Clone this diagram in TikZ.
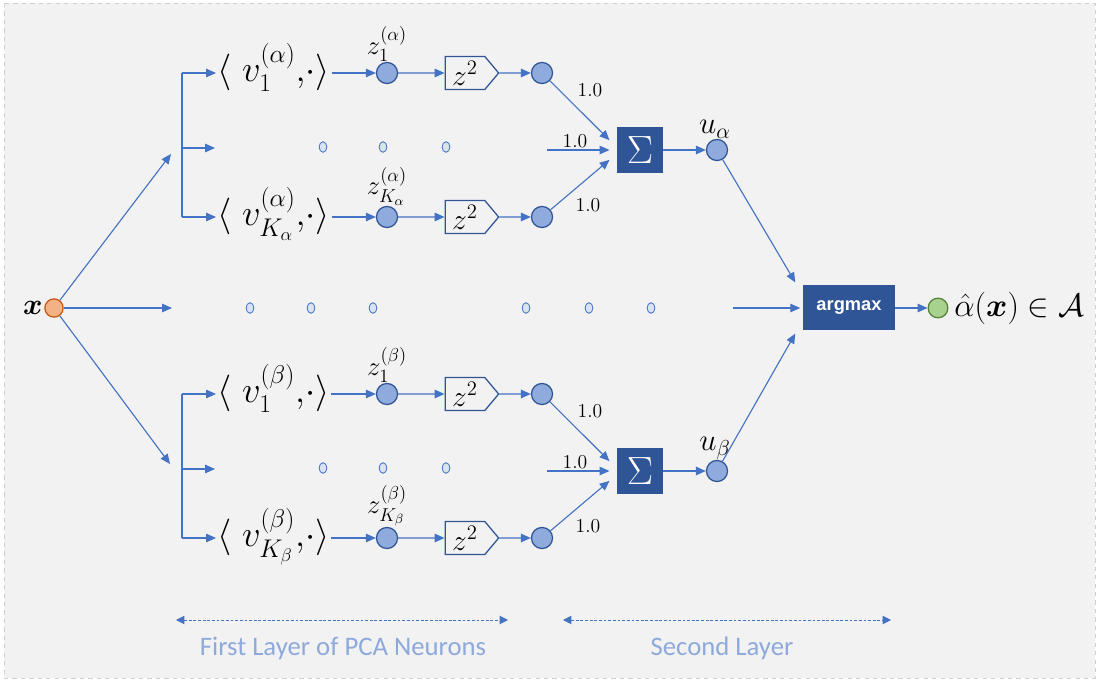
\RequirePackage{fix-cm}
\documentclass[tikz,border=0pt]{standalone}
\usepackage{amsmath}
\usepackage{amssymb}
\usepackage{fontspec}
\newfontfamily\capfont{Carlito}
\newfontfamily\boxfont{Liberation Sans}
\usepackage{tikz}
\usepackage{xcolor}
\usetikzlibrary{arrows.meta,positioning,calc,shapes.geometric,shapes.symbols}
\definecolor{nnline}{HTML}{4472C4}
\definecolor{nnfill}{HTML}{8FAADC}
\definecolor{nndark}{HTML}{2F5597}
\definecolor{nnbg}{HTML}{F2F2F2}
\definecolor{nnframe}{HTML}{CFCFCF}
\definecolor{nngreen}{HTML}{A9D18E}
\definecolor{nngreendk}{HTML}{548235}
\definecolor{nnorange}{HTML}{F4B183}
\definecolor{nnorangedk}{HTML}{C55A11}
\definecolor{nncap}{HTML}{8EA9DB}
\definecolor{nndot}{HTML}{DAE3F3}
\tikzset{
  conn/.style      = {draw=nnline, line width=0.8pt},
  carrow/.style    = {conn, -{Triangle[length=7pt,width=6pt]}},
  spanarr/.style   = {draw=nnline, line width=0.7pt, dash pattern=on 2pt off 1.3pt,
                       {Triangle[length=6pt,width=6pt]}-{Triangle[length=6pt,width=6pt]}},
  neuron/.style    = {circle, draw=nndark, fill=nnfill, line width=0.9pt,
                       minimum size=15pt, inner sep=0pt},
  inneuron/.style  = {neuron, draw=nnorangedk, fill=nnorange, minimum size=13pt},
  outneuron/.style = {neuron, draw=nngreendk, fill=nngreen, minimum size=14pt},
  ipnode/.style    = {anchor=west, inner sep=1pt, text height=23pt, text depth=11pt,
                       font=\fontsize{26}{30}\selectfont},
  zlab/.style      = {inner sep=0pt, font=\fontsize{19}{22}\selectfont},
  ulab/.style      = {inner sep=0pt, font=\fontsize{22}{25}\selectfont},
  wlab/.style      = {inner sep=1pt, font=\fontsize{14}{16}\selectfont},
  sqbox/.style     = {signal, signal to=east, signal pointer angle=100, draw=nndark,
                       line width=0.9pt, minimum width=38pt, minimum height=23.5pt,
                       inner sep=1pt, font=\fontsize{21}{24}\selectfont},
  sumbox/.style    = {rectangle, fill=nndark, minimum size=33pt, inner sep=0pt,
                       text=white, font=\fontsize{28}{30}\selectfont},
  ambox/.style     = {rectangle, fill=nndark, minimum width=65pt, minimum height=32pt,
                       text=white, font=\boxfont\bfseries\fontsize{13}{15}\selectfont},
  dotnode/.style   = {ellipse, draw=nnline, fill=nndot, line width=0.6pt,
                       minimum width=5.5pt, minimum height=7.5pt, inner sep=0pt},
  caplab/.style    = {text=nncap, font=\capfont\fontsize{19}{22}\selectfont},
}

\begin{document}
\begin{tikzpicture}[x=0.025cm, y=-0.025cm]
\useasboundingbox (0,0) rectangle (1098,681);
% Background panel
\draw[nnframe, dashed, fill=nnbg] (4,3) rectangle (1095,678);

% Input
\node[inneuron] (x) at (54,308) {};
\node[font=\fontsize{21}{24}\selectfont, left=1pt of x, inner sep=0pt] (xlab) {$\boldsymbol{x}$};
\coordinate (br-a) at (171,154);
\coordinate (br-m) at (172,308);
\coordinate (br-b) at (170,464);
\draw[carrow] (x) -- (br-a);
\draw[carrow] (x) -- (br-m);
\draw[carrow] (x) -- (br-b);

% Two class branches (alpha on top, beta below)
\foreach \g/\gr/\yo in {a/\alpha/0, b/\beta/321} {
  % spine
  \coordinate (sp-\g-1) at (182,73+\yo);
  \coordinate (sp-\g-m) at (182,148+\yo);
  \coordinate (sp-\g-2) at (182,217+\yo);
  \coordinate (tip-\g-m) at (215,148+\yo);
  \draw[conn] (sp-\g-1) -- (sp-\g-2);
  \draw[carrow] (sp-\g-m) -- (tip-\g-m);

  % projections
  \node[ipnode] (ip-\g-1) at (216,73+\yo)  {$\langle\; v_1^{(\gr)},\!\cdot\rangle$};
  \node[ipnode] (ip-\g-2) at (216,217+\yo) {$\langle\; v_{K_\gr}^{(\gr)},\!\cdot\rangle$};
  \draw[carrow] (sp-\g-1) -- (ip-\g-1.west);
  \draw[carrow] (sp-\g-2) -- (ip-\g-2.west);

  % z neurons, squaring, outputs
  \node[neuron] (z-\g-1) at (387,73+\yo)  {};
  \node[neuron] (z-\g-2) at (387,217+\yo) {};
  \node[zlab, above=0pt of z-\g-1] (zl-\g-1) {$z_1^{(\gr)}$};
  \node[zlab, above=0pt of z-\g-2] (zl-\g-2) {$z_{K_\gr}^{(\gr)}$};
  \node[sqbox] (sq-\g-1) at (465,73+\yo)  {$z^2$};
  \node[sqbox] (sq-\g-2) at (465,217+\yo) {$z^2$};
  \node[neuron] (o-\g-1) at (542,73+\yo)  {};
  \node[neuron] (o-\g-2) at (542,217+\yo) {};
  \foreach \r in {1,2} {
    \draw[carrow] (ip-\g-\r.east) -- (z-\g-\r);
    \draw[carrow] (z-\g-\r) -- (sq-\g-\r);
    \draw[carrow] (sq-\g-\r) -- (o-\g-\r);
  }
  \foreach \xx [count=\k] in {323,383,446}
    \node[dotnode] (d-\g-\k) at (\xx,147+\yo) {};

  % summation
  \node[sumbox] (sum-\g) at (640,150+\yo) {$\Sigma$};
  \coordinate (in-\g) at (547,150+\yo);
  \draw[carrow] (o-\g-1) -- ([xshift=-5pt,yshift=7pt]sum-\g.west);
  \draw[carrow] (in-\g) -- ([xshift=-5pt]sum-\g.west);
  \draw[carrow] (o-\g-2) -- ([xshift=-5pt,yshift=-7pt]sum-\g.west);
  \node[wlab] (w-\g-1) at (590,90+\yo)  {1.0};
  \node[wlab] (w-\g-m) at (575,141+\yo) {1.0};
  \node[wlab] (w-\g-2) at (588,205+\yo) {1.0};

  % class score
  \node[neuron] (u-\g) at (717,150+\yo) {};
  \node[ulab, above=0pt of u-\g, xshift=-1.5pt] (ul-\g) {$u_\gr$};
  \draw[carrow] (sum-\g) -- (u-\g);
}

% Middle row of dots
\foreach \xx [count=\k] in {250,311,373,526,589,651}
  \node[dotnode] (dm-\k) at (\xx,308) {};

% Decision
\node[ambox] (am) at (849,308) {argmax};
\coordinate (in-m) at (733,308);
\draw[carrow] (u-a) -- ([xshift=-5.5pt,yshift=2pt]am.north west);
\draw[carrow] (in-m) -- ([xshift=-2pt]am.west);
\draw[carrow] (u-b) -- ([xshift=-5.5pt,yshift=-2pt]am.south west);
\node[outneuron] (out) at (938,308) {};
\draw[carrow] (am) -- (out);
\node[font=\fontsize{23}{26}\selectfont, right=4pt of out, inner sep=0pt] (outlab)
  {$\hat{\alpha}(\boldsymbol{x}) \in \mathcal{A}$};

% Layer spans
\coordinate (s1a) at (176,620);
\coordinate (s1b) at (508,620);
\coordinate (s2a) at (563,620);
\coordinate (s2b) at (891,620);
\draw[spanarr] (s1a) -- (s1b);
\draw[spanarr] (s2a) -- (s2b);
\node[caplab] (cap1) at (343,648) {First Layer of PCA Neurons};
\node[caplab] (cap2) at (722,648) {Second Layer};
\end{tikzpicture}
\end{document}
